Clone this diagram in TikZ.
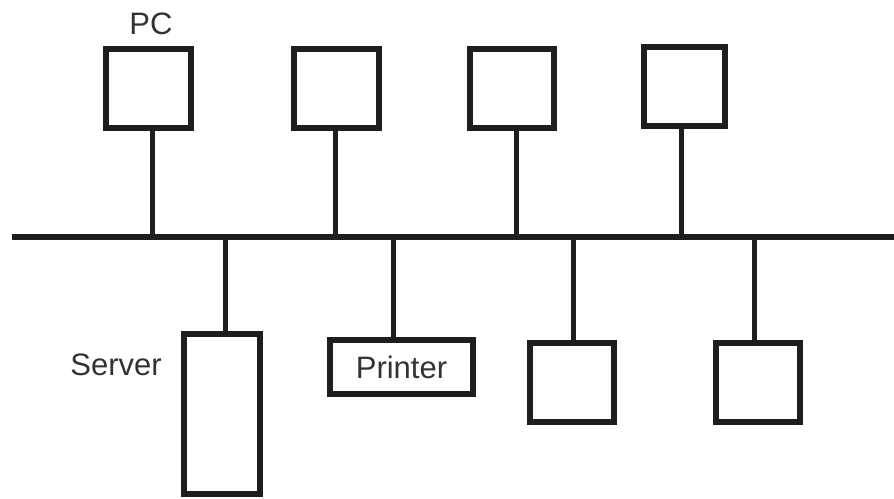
\documentclass[tikz,border=0pt]{standalone}
\usepackage{fontspec}
\setmainfont{Liberation Sans}
\definecolor{ink}{HTML}{1E1E1E}
\definecolor{txt}{HTML}{333333}
\begin{document}
\begin{tikzpicture}[x=1pt,y=-1pt,
  dev/.style={draw=ink,line width=6pt,rectangle,inner sep=0pt,fill=white},
  link/.style={draw=ink,line width=5pt},
  busline/.style={draw=ink,line width=6pt},
  lbl/.style={text=txt,font=\fontsize{31}{37}\selectfont,inner sep=0pt}]
\useasboundingbox (0,0) rectangle (894,498);
\fill[white] (0,0) rectangle (894,498);
% bus
\coordinate (bl) at (12,237);
\coordinate (br) at (900,237);
% top devices
\node[dev,minimum width=85pt,minimum height=79pt] (pc1) at (148.5,88.5) {};
\node[dev,minimum width=85pt,minimum height=79pt] (pc2) at (336.5,88.5) {};
\node[dev,minimum width=84pt,minimum height=79pt] (pc3) at (512,88.5) {};
\node[dev,minimum width=81pt,minimum height=79pt] (pc4) at (684.5,86.5) {};
% bottom devices
\node[dev,minimum width=76pt,minimum height=160pt] (srv) at (222,414) {};
\node[dev,minimum width=143pt,minimum height=54pt,lbl] (prn) at (401.5,367) {Printer};
\node[dev,minimum width=84pt,minimum height=79pt] (b3) at (572,382.5) {};
\node[dev,minimum width=84pt,minimum height=79pt] (b4) at (758,382.5) {};
% labels
\node[lbl] (pclbl) at (151,24) {PC};
\node[lbl] (srvlbl) at (116,365) {Server};
% connectors
\draw[link] ([xshift=3.5pt]pc1.south) -- ([xshift=3.5pt]pc1.south |- bl);
\draw[link] ([xshift=-1.5pt]pc2.south) -- ([xshift=-1.5pt]pc2.south |- bl);
\draw[link] ([xshift=4pt]pc3.south) -- ([xshift=4pt]pc3.south |- bl);
\draw[link] ([xshift=-3.5pt]pc4.south) -- ([xshift=-3.5pt]pc4.south |- bl);
\draw[link] ([xshift=3pt]srv.north) -- ([xshift=3pt]srv.north |- bl);
\draw[link] ([xshift=-8.5pt]prn.north) -- ([xshift=-8.5pt]prn.north |- bl);
\draw[link] ([xshift=1pt]b3.north) -- ([xshift=1pt]b3.north |- bl);
\draw[link] ([xshift=-4pt]b4.north) -- ([xshift=-4pt]b4.north |- bl);
\draw[busline] (bl) -- (br);
\end{tikzpicture}
\end{document}
